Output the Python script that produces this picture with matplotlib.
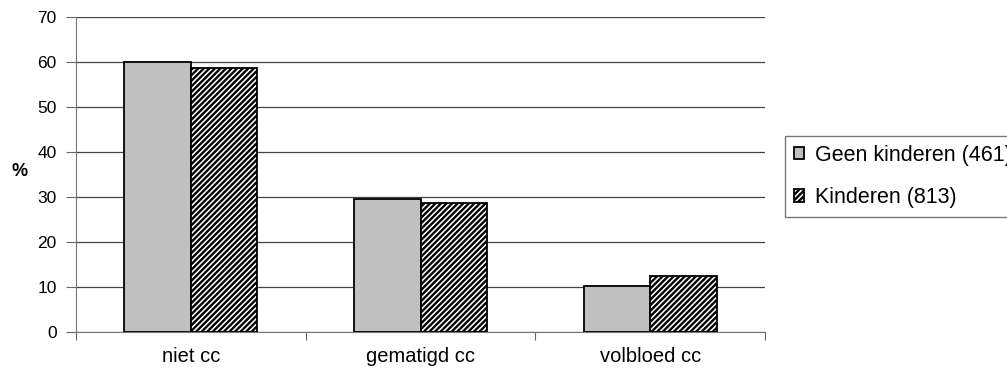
import matplotlib
matplotlib.use("Agg")
import matplotlib.pyplot as plt
import numpy as np

categories = ["niet cc", "gematigd cc", "volbloed cc"]
geen_kinderen = [60.0, 29.5, 10.2]
kinderen = [58.7, 28.6, 12.5]
series_labels = ["Geen kinderen (461)", "Kinderen (813)"]
yticks = [0, 10, 20, 30, 40, 50, 60, 70]

plt.rcParams['font.family'] = ['Liberation Sans', 'DejaVu Sans']
plt.rcParams['hatch.linewidth'] = 1.7

fig = plt.figure(figsize=(10.07, 3.76), dpi=100)
ax = fig.add_axes([76/1007, 1-332/376, (765-76)/1007, (332-17)/376])

x = np.arange(len(categories))
w = 0.29
ax.bar(x - w/2, geen_kinderen, w, color="#C0C0C0", edgecolor="black", linewidth=1.3,
       label=series_labels[0], zorder=3)
ax.bar(x + w/2, kinderen, w, color="white", edgecolor="black", linewidth=1.3,
       hatch="//////", label=series_labels[1], zorder=3)

ax.set_xlim(-0.5, 2.5)
ax.set_ylim(0, 70)
ax.set_yticks(yticks)
ax.set_yticklabels([str(t) for t in yticks], fontsize=12.5)
ax.yaxis.grid(True, color="#444444", linewidth=0.9)
ax.set_axisbelow(True)
ax.set_xticks([-0.5, 0.5, 1.5, 2.5])
ax.set_xticklabels([])
ax.set_xticks(x, minor=True)
ax.set_xticklabels(categories, minor=True, fontsize=14.5)
ax.tick_params(axis="x", which="minor", length=0, pad=11)
ax.tick_params(axis="x", which="major", length=6, color="#666666")
ax.tick_params(axis="y", length=7, pad=7, color="#666666")
for s in ["top", "right"]:
    ax.spines[s].set_visible(False)
ax.spines["left"].set_color("#777777")
ax.spines["bottom"].set_color("#777777")
fig.text(20/1007, 1-172/376, "%", fontsize=13, fontweight="bold", ha="center", va="center")

leg = fig.legend(loc="upper left", bbox_to_anchor=(785/1007, 1-136/376), fontsize=15.5,
                 frameon=True, fancybox=False, edgecolor="#555555",
                 handlelength=0.5, handleheight=0.5, handletextpad=0.5,
                 labelspacing=1.0, borderpad=0.4, borderaxespad=0)
leg.get_frame().set_linewidth(1.0)

fig.savefig("out.png", dpi=100)
